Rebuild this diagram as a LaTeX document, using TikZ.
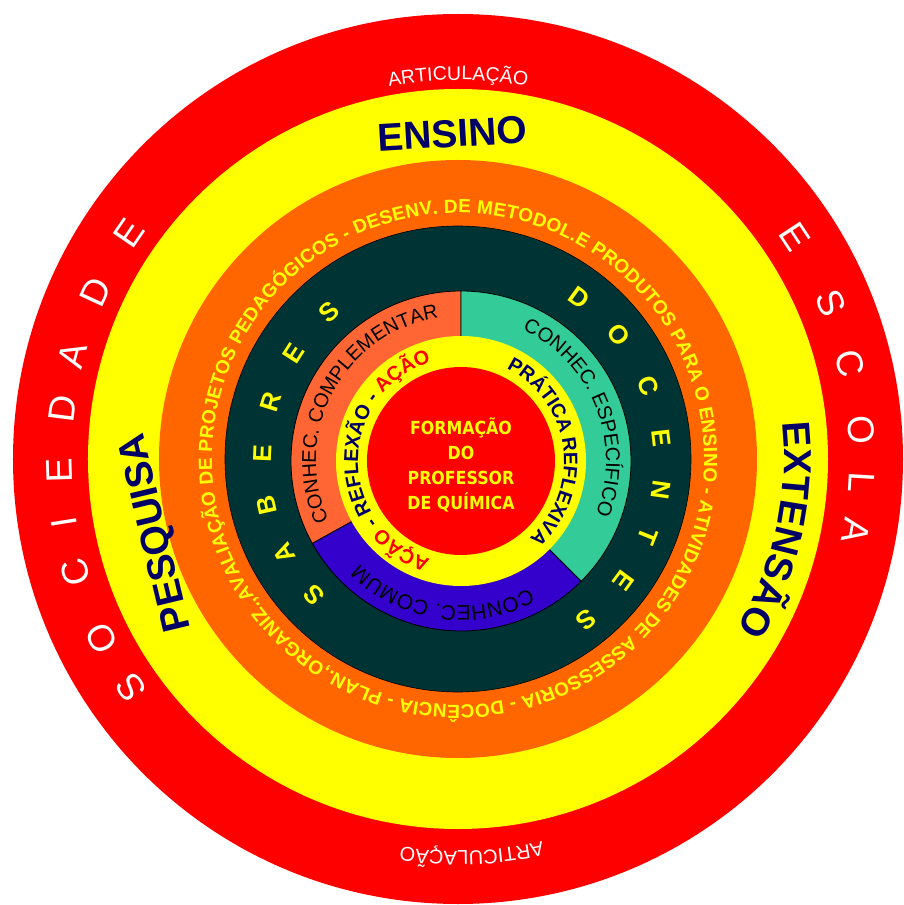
\documentclass[tikz,border=0pt]{standalone}
\usepackage{fontspec}
\setmainfont{Liberation Sans}
\newfontfamily\chunky{DejaVu Sans}[FakeStretch=0.88]
\usetikzlibrary{decorations.text}
\definecolor{cred}{RGB}{255,0,0}
\definecolor{cyel}{RGB}{255,255,0}
\definecolor{corange}{RGB}{255,102,0}
\definecolor{cdark}{RGB}{0,51,51}
\definecolor{ccoral}{RGB}{255,102,51}
\definecolor{cteal}{RGB}{51,204,153}
\definecolor{cblue}{RGB}{51,0,204}
\definecolor{cnavy}{RGB}{0,0,102}
\tikzset{
  lettr/.style={inner sep=0pt, outer sep=0pt},
  bigword/.style={inner sep=0pt, text=cnavy, font=\bfseries\fontsize{39}{39}\selectfont, text height=28pt, text depth=0pt},
  sectorline/.style={draw=black, line width=0.8pt}
}
\begin{document}
\begin{tikzpicture}[x=1pt,y=1pt]
\fill[white] (-458,-446) rectangle (446,459);
\useasboundingbox (-458,-446) rectangle (446,459);
% rings
\fill[cred] (0,0) circle[radius=445pt];
\fill[cyel] (0,0) circle[radius=370pt];
\fill[corange] (0,0) circle[radius=299pt];
\filldraw[fill=cdark, draw=black, line width=0.6pt] (0,0) circle[radius=233pt];

% outer red ring texts
\path[decorate, decoration={text along path, text align=center,
  text={|\fontsize{19.5}{20}\selectfont\color{white}|ARTICULAÇÃO}}]
  (150:379pt) arc[start angle=150, end angle=30, radius=379pt];
\path[decorate, decoration={text along path, text align=center,
  text={|\fontsize{20}{20}\selectfont\color{white}|ARTICULAÇÃO}}]
  (-28:392pt) arc[start angle=-28, end angle=-148, radius=392pt];

\foreach \l/\a [count=\i] in {S/215, O/206.7, C/196.5, I/189.1, E/181.6, D/172.8, A/164.9, D/155.2, E/145.5}
  \node[lettr, text=white, font=\fontsize{37}{37}\selectfont, rotate=\a-90] (soc\i) at (\a:399pt) {\l};
\foreach \l/\a [count=\i] in {E/33.4, S/22.7, C/13.7, O/4.1, L/-3.4, A/-10.2}
  \node[lettr, text=white, font=\fontsize{37}{37}\selectfont, rotate=\a-90] (esc\i) at (\a:404pt) {\l};

% yellow ring words
\node[bigword, rotate=3.4] (ensino) at (-6,326) {ENSINO};
\node[bigword, rotate=103.5] (pesquisa) at (-305,-74.5) {PESQUISA};
\path[decorate, decoration={text along path, text align=center,
  text={|\bfseries\fontsize{39}{39}\selectfont\color{cnavy}|EXTENSÃO}}]
  (17.5:326pt) arc[start angle=17.5, end angle=-42.5, radius=326pt];

% orange ring text
\path[decorate, decoration={text along path, text align={fit to path},
  text={|\bfseries\fontsize{19}{19}\selectfont\color{cyel}|DOCÊNCIA - PLAN.,ORGANIZ.,AVALIAÇÃO DE PROJETOS PEDAGÓGICOS - DESENV. DE METODOL.E PRODUTOS PARA O ENSINO - ATIVIDADES DE ASSESSORIA -}}]
  (-79.5:246pt) arc[start angle=-79.5, end angle=-438, radius=246pt];

\begin{scope}[shift={(3pt,-2pt)}]
  % sectors
  \filldraw[fill=ccoral, sectorline] (0,0) -- (90:170pt) arc[start angle=90, end angle=209, radius=170pt] -- cycle;
  \filldraw[fill=cblue, sectorline] (0,0) -- (209:170pt) arc[start angle=209, end angle=315, radius=170pt] -- cycle;
  \filldraw[fill=cteal, sectorline] (0,0) -- (315:170pt) arc[start angle=315, end angle=450, radius=170pt] -- cycle;
  \fill[cyel] (0,0) circle[radius=125pt];
  \fill[cred] (0,0) circle[radius=94pt];

  % dark ring letters
  \foreach \l/\a [count=\i] in {S/222.2, A/207.6, B/192.8, E/177.7, R/162.7, E/147.4, S/131.5}
    \node[lettr, text=cyel, font=\bfseries\fontsize{26}{26}\selectfont, rotate=\a-90] (sab\i) at (\a:199pt) {\l};
  \foreach \l/\a [count=\i] in {D/54, O/38.6, C/21.9, E/6.6, N/-8.2, T/-22, E/-36.2, S/-51.7}
    \node[lettr, text=cyel, font=\bfseries\fontsize{26}{26}\selectfont, rotate=\a-90] (doc\i) at (\a:202pt) {\l};

  % sector texts
  \path[decorate, decoration={text along path, text align=center,
    text={|\fontsize{20}{20}\selectfont\color{black}|CONHEC. COMPLEMENTAR}}]
    (231.5:145pt) arc[start angle=231.5, end angle=71.5, radius=145pt];
  \path[decorate, decoration={text along path, text align=center,
    text={|\fontsize{20}{20}\selectfont\color{black}|CONHEC. ESPECÍFICO}}]
    (101.7:145pt) arc[start angle=101.7, end angle=-58.3, radius=145pt];
  \path[decorate, decoration={text along path, text align=center,
    text={|\fontsize{21}{21}\selectfont\color{black}|CONHEC. COMUM}}]
    (-18.2:145pt) arc[start angle=-18.2, end angle=-178.2, radius=145pt];

  % inner yellow ring texts
  \path[decorate, decoration={text along path, text align=center,
    text={|\bfseries\fontsize{19.5}{20}\selectfont\color{cnavy}|PRÁTICA REFLEXIVA}}]
    (77.7:103pt) arc[start angle=77.7, end angle=-62.3, radius=103pt];
  \path[decorate, decoration={text along path, text align=center,
    text={|\bfseries\fontsize{20}{20}\selectfont\color{cred}|AÇÃO|\bfseries\fontsize{20}{20}\selectfont\color{cnavy}| - REFLEXÃO - |\bfseries\fontsize{20}{20}\selectfont\color{cred}|AÇÃO}}]
    (264.7:103pt) arc[start angle=264.7, end angle=94.7, radius=103pt];

  % centre
  \node[align=center, text=cyel, font=\chunky\bfseries\fontsize{18}{25}\selectfont] (core) at (0,-4) {FORMAÇÃO\\DO\\PROFESSOR\\DE QUÍMICA};
\end{scope}
\end{tikzpicture}
\end{document}
